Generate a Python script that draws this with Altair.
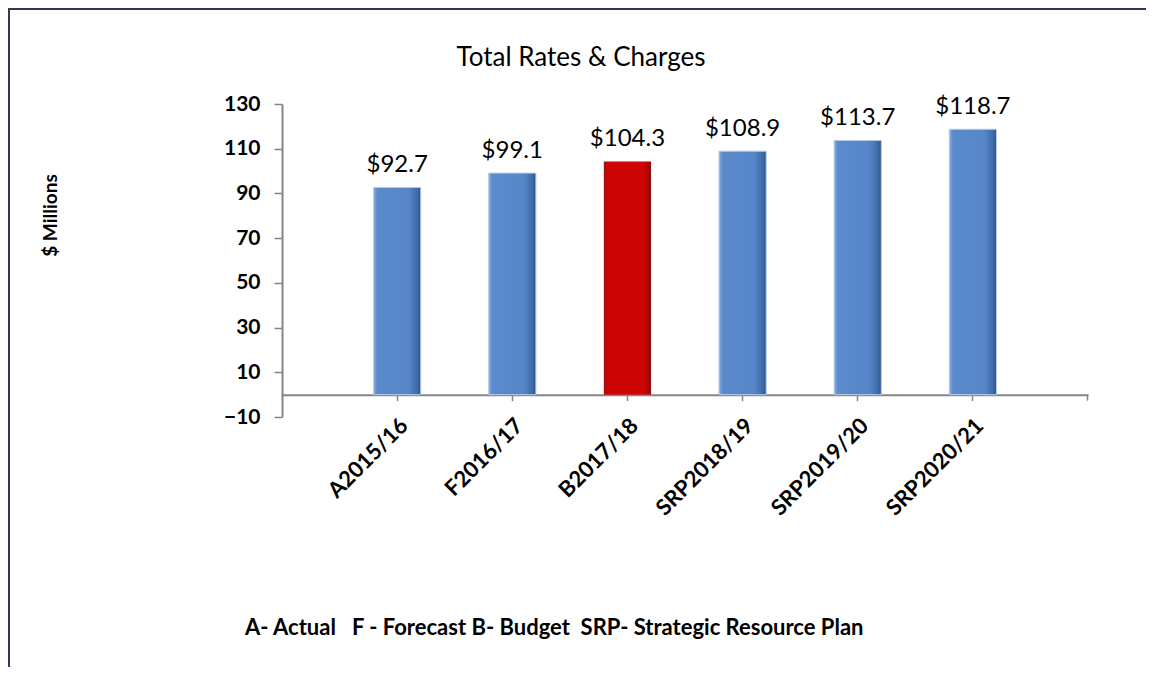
import altair as alt
import pandas as pd

categories = ["A2015/16", "F2016/17", "B2017/18", "SRP2018/19", "SRP2019/20", "SRP2020/21"]
values = [92.7, 99.1, 104.3, 108.9, 113.7, 118.7]
labels = ["$92.7", "$99.1", "$104.3", "$108.9", "$113.7", "$118.7"]
kinds = ["other", "other", "budget", "other", "other", "other"]
y_ticks = [-10, 10, 30, 50, 70, 90, 110, 130]
title_text = "Total Rates & Charges"
footnote = "A- Actual\u00a0\u00a0\u00a0F - Forecast B- Budget\u00a0\u00a0SRP- Strategic Resource Plan"

df = pd.DataFrame({"cat": categories, "val": values, "lab": labels, "kind": kinds})

FONT = "Lato"
W, H = 806, 313
ZERO_PX = H * 130 / 140

blue = alt.Gradient(
    gradient="linear", x1=0, x2=1, y1=0, y2=0,
    stops=[alt.GradientStop(offset=0, color="#8aaee0"),
           alt.GradientStop(offset=0.08, color="#5b8bcc"),
           alt.GradientStop(offset=0.75, color="#5686c8"),
           alt.GradientStop(offset=0.93, color="#3f6aa6"),
           alt.GradientStop(offset=1, color="#2f5185")])
red = alt.Gradient(
    gradient="linear", x1=0, x2=1, y1=0, y2=0,
    stops=[alt.GradientStop(offset=0, color="#a01010"),
           alt.GradientStop(offset=0.08, color="#cc0404"),
           alt.GradientStop(offset=0.85, color="#cc0404"),
           alt.GradientStop(offset=1, color="#8a0c0c")])

x = alt.X("cat:N", sort=categories,
          scale=alt.Scale(paddingInner=0.59, paddingOuter=0.795),
          axis=alt.Axis(title=None, labelAngle=-45, labelFont=FONT, labelFontSize=22,
                        labelFontWeight="bold", labelColor="#000000",
                        domainColor="#868686", domainWidth=2, tickColor="#868686",
                        tickWidth=1.5, tickSize=6, labelPadding=14,
                        offset=-(H * 10 / 140)))
y = alt.Y("val:Q", scale=alt.Scale(domain=[-10, 130], nice=False, zero=False),
          axis=alt.Axis(values=y_ticks, title="$ Millions", titleFont=FONT,
                        titleFontSize=19, titleFontWeight="bold", titleColor="#000000",
                        titleX=-232, titleY=111, titleAngle=-90,
                        titleAlign="center", titleBaseline="middle",
                        labelFont=FONT, labelFontSize=21, labelFontWeight="bold",
                        labelColor="#000000", domainColor="#868686", domainWidth=2,
                        tickColor="#868686", tickWidth=1.5, tickSize=8,
                        labelPadding=14, grid=False))

base = alt.Chart(df)

bars_blue = base.transform_filter(alt.datum.kind == "other").mark_bar(
    color=blue, stroke="#b8cbe6", strokeWidth=1).encode(x=x, y=y, y2=alt.datum(0))
bars_red = base.transform_filter(alt.datum.kind == "budget").mark_bar(
    color=red).encode(x=x, y=y, y2=alt.datum(0))

text = base.mark_text(font=FONT, fontSize=24, baseline="bottom", dy=-10,
                      color="#000000").encode(x=x, y=y, text="lab:N")

title = alt.Chart(pd.DataFrame({"t": [title_text]})).mark_text(
    font=FONT, fontSize=26, align="center", baseline="alphabetic",
    color="#000000").encode(x=alt.value(299), y=alt.value(-38), text="t:N")

foot = alt.Chart(pd.DataFrame({"t": [footnote]})).mark_text(
    font=FONT, fontSize=22, fontWeight="bold", align="left", baseline="alphabetic",
    color="#000000").encode(x=alt.value(-37), y=alt.value(531), text="t:N")

end_tick = alt.Chart(pd.DataFrame({"a": [0]})).mark_rule(
    color="#868686", strokeWidth=1.5).encode(x=alt.value(W - 0.5), y=alt.value(ZERO_PX),
                                             y2=alt.value(ZERO_PX + 6))

border_top = alt.Chart(pd.DataFrame({"a": [0]})).mark_rule(
    color="#403152", strokeWidth=2).encode(x=alt.value(-274), x2=alt.value(W + 60),
                                           y=alt.value(-95))
border_left = alt.Chart(pd.DataFrame({"a": [0]})).mark_rule(
    color="#403152", strokeWidth=2).encode(x=alt.value(-273), y=alt.value(-96),
                                           y2=alt.value(H + 300))

chart = alt.layer(bars_blue, bars_red, text, title, foot, end_tick,
                  border_top, border_left).properties(
    width=W, height=H,
    background="#ffffff",
    autosize=alt.AutoSizeParams(type="none"),
    padding={"left": 274, "top": 96, "right": 58, "bottom": 250},
).configure_view(stroke="transparent", strokeWidth=0)

chart.save("out.html", embed_options={"renderer": "svg", "actions": False})
